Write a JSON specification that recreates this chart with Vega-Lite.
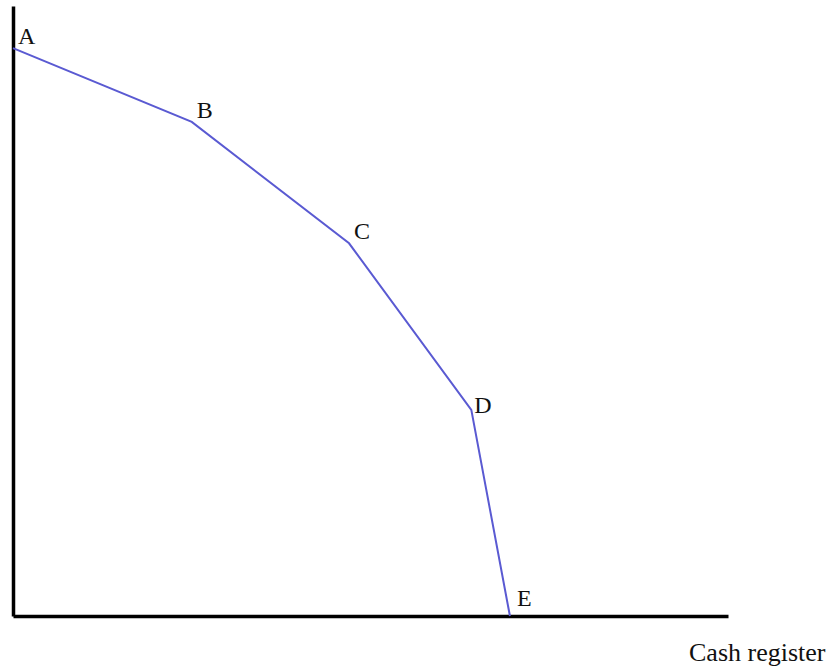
{
  "$schema": "https://vega.github.io/schema/vega-lite/v6.json",
  "width": 715,
  "height": 610,
  "autosize": "none",
  "padding": {"left": 13, "top": 6, "right": 106, "bottom": 54},
  "background": "white",
  "config": {"view": {"stroke": null}},
  "data": {"values": [
    {"label": "A", "x": 0, "y": 93.1},
    {"label": "B", "x": 25.0, "y": 81.0},
    {"label": "C", "x": 47.0, "y": 61.1},
    {"label": "D", "x": 64.1, "y": 33.8},
    {"label": "E", "x": 69.5, "y": 0}
  ]},
  "encoding": {
    "x": {"field": "x", "type": "quantitative", "scale": {"domain": [0, 100], "nice": false, "zero": false},
      "axis": {"domainColor": "black", "domainWidth": 3.5, "ticks": false, "labels": false, "grid": false,
        "title": "Cash register", "titleFont": "Liberation Serif", "titleFontSize": 26, "titleFontWeight": "normal",
        "titleColor": "#111", "titleAnchor": "end", "titleAlign": "right", "titleX": 812, "titleY": 44, "titleBaseline": "alphabetic"}},
    "y": {"field": "y", "type": "quantitative", "scale": {"domain": [0, 100], "nice": false, "zero": false},
      "axis": {"domainColor": "black", "domainWidth": 3.5, "ticks": false, "labels": false, "grid": false, "title": null}}
  },
  "layer": [
    {"mark": {"type": "line", "color": "#5a5ad2", "strokeWidth": 2, "clip": false}},
    {"transform": [{"filter": "indexof(['A','B','C'], datum.label) >= 0"}],
     "mark": {"type": "text", "font": "Liberation Serif", "fontSize": 24, "color": "#111", "align": "left", "baseline": "alphabetic", "dx": 5, "dy": -4},
     "encoding": {"text": {"field": "label"}}},
    {"transform": [{"filter": "datum.label == 'D'"}],
     "mark": {"type": "text", "font": "Liberation Serif", "fontSize": 24, "color": "#111", "align": "left", "baseline": "alphabetic", "dx": 3, "dy": 3},
     "encoding": {"text": {"field": "label"}}},
    {"transform": [{"filter": "datum.label == 'E'"}],
     "mark": {"type": "text", "font": "Liberation Serif", "fontSize": 24, "color": "#111", "align": "left", "baseline": "alphabetic", "dx": 7, "dy": -10},
     "encoding": {"text": {"field": "label"}}}
  ]
}
